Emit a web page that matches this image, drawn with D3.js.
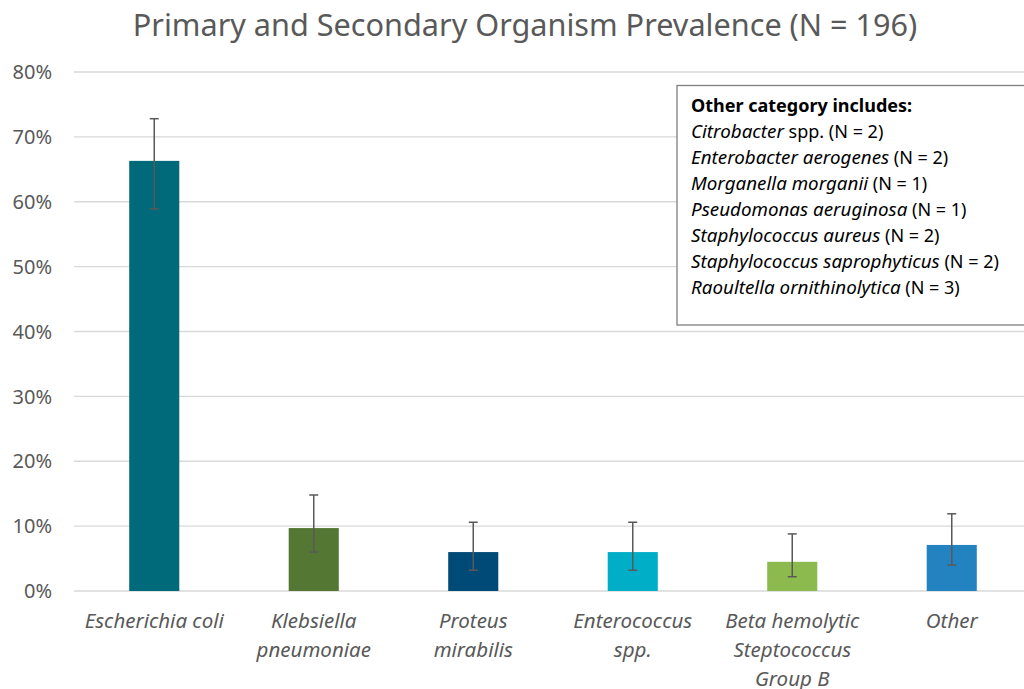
<!DOCTYPE html>
<html><head><meta charset="utf-8">
<script src="https://cdn.jsdelivr.net/npm/d3@7"></script>
<style>body{margin:0;background:#fff;} svg{display:block;font-family:"Noto Sans",sans-serif;}</style>
</head><body><svg id="c" width="1024" height="689"></svg>
<script>
const categories = [["Escherichia coli"],["Klebsiella","pneumoniae"],["Proteus","mirabilis"],["Enterococcus","spp."],["Beta hemolytic","Steptococcus","Group B"],["Other"]];
const values = [66.3, 9.7, 6.0, 6.0, 4.5, 7.1];
const errLow = [58.9, 6.0, 3.2, 3.2, 2.2, 4.0];
const errHigh = [72.8, 14.8, 10.6, 10.6, 8.8, 11.9];
const colors = ["#00697A","#547734","#004A77","#00AEC8","#8CBA4E","#2382C0"];
const yTicks = [0,10,20,30,40,50,60,70,80];
const legendTitle = "Other category includes:";
const legendItems = [["Citrobacter"," spp. (N = 2)"],["Enterobacter aerogenes"," (N = 2)"],["Morganella morganii"," (N = 1)"],["Pseudomonas aeruginosa"," (N = 1)"],["Staphylococcus aureus"," (N = 2)"],["Staphylococcus saprophyticus"," (N = 2)"],["Raoultella ornithinolytica"," (N = 3)"]];
const title = "Primary and Secondary Organism Prevalence (N = 196)";

const svg = d3.select("#c");
const x = d3.scaleBand().domain(d3.range(categories.length)).range([74.5, 1031.5]).paddingInner(0.686).paddingOuter(0.343);
const y = d3.scaleLinear().domain([0,80]).range([591,72]);
const grey = "#595959";

// gridlines
svg.append("g").selectAll("line").data(yTicks).join("line")
  .attr("x1",74).attr("x2",1024).attr("y1",d=>y(d)).attr("y2",d=>y(d))
  .attr("stroke","#d9d9d9").attr("stroke-width",1.3);

// y labels
svg.append("g").selectAll("text").data(yTicks).join("text")
  .attr("x",52).attr("y",d=>y(d)).attr("dy","0.36em").attr("text-anchor","end")
  .attr("fill",grey).attr("font-size",20).text(d=>d+"%");

// bars
svg.append("g").selectAll("rect").data(values).join("rect")
  .attr("x",(d,i)=>x(i)).attr("width",x.bandwidth())
  .attr("y",d=>y(d)).attr("height",d=>y(0)-y(d)).attr("fill",(d,i)=>colors[i]);

// error bars
const eb = svg.append("g").attr("stroke",grey).attr("stroke-width",1.5);
values.forEach((v,i)=>{
  const cx = x(i)+x.bandwidth()/2;
  eb.append("line").attr("x1",cx).attr("x2",cx).attr("y1",y(errLow[i])).attr("y2",y(errHigh[i]));
  [errLow[i],errHigh[i]].forEach(e=>eb.append("line").attr("x1",cx-4.5).attr("x2",cx+4.5).attr("y1",y(e)).attr("y2",y(e)));
});

// category labels
const cl = svg.append("g");
categories.forEach((lines,i)=>{
  const cx = x(i)+x.bandwidth()/2;
  const t = cl.append("text").attr("x",cx).attr("y",628).attr("text-anchor","middle")
    .attr("fill",grey).attr("font-size",20.5).attr("font-style","italic");
  lines.forEach((l,j)=>t.append("tspan").attr("x",cx).attr("dy",j?29:0).text(l));
});

// title
const tt = svg.append("text").attr("x",525).attr("y",36).attr("text-anchor","middle")
  .attr("fill",grey).attr("font-size",28).text(title);
const tw = tt.node().getComputedTextLength();
tt.attr("font-size",28*785/tw);

// legend box
svg.append("rect").attr("x",677).attr("y",85.5).attr("width",360).attr("height",239.5)
  .attr("fill","#fff").attr("stroke","#7f7f7f").attr("stroke-width",1.3);
const lg = svg.append("g").attr("font-size",18).attr("fill","#000");
lg.append("text").attr("x",691).attr("y",112).attr("font-weight","bold").text(legendTitle);
legendItems.forEach((it,i)=>{
  const t = lg.append("text").attr("x",691).attr("y",138+i*26);
  t.append("tspan").attr("font-style","italic").attr("font-size",18.8).text(it[0]);
  t.append("tspan").text(it[1]);
});
</script></body></html>
